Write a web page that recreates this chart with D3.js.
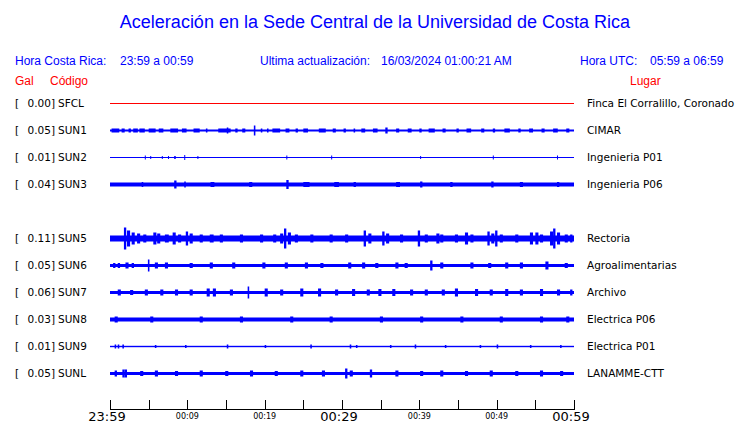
<!DOCTYPE html>
<html><head><meta charset="utf-8">
<script src="https://cdn.jsdelivr.net/npm/d3@7"></script>
<style>body{margin:0;background:#fff}svg{display:block}</style>
</head><body><svg id="c" width="740" height="423"></svg>
<script>
// ---- data ----
const slots = ["SFCL","SUN1","SUN2","SUN3","SUN4","SUN5","SUN6","SUN7","SUN8","SUN9","SUNL"];
const codes = ["SFCL","SUN1","SUN2","SUN3","SUN5","SUN6","SUN7","SUN8","SUN9","SUNL"];
const gal = [0.00,0.05,0.01,0.04,0.11,0.05,0.06,0.03,0.01,0.05];
const places = ["Finca El Corralillo, Coronado","CIMAR","Ingenieria P01","Ingenieria P06","Rectoria","Agroalimentarias","Archivo","Electrica P06","Electrica P01","LANAMME-CTT"];
// base half-amplitude (relative units) of each trace
const baseAmp = [0,1,0.6,2,3,1.5,1.5,2,0.7,1.5];
// bursts: [minutes after 23:59, half-amplitude, duration in minutes]
const burstsSFCL = [];
const burstsSUN1 = [[0.2,2,1],[1.5,2,0.4],[2.4,2,0.3],[3.0,2,0.6],[3.8,2,0.7],[5.0,2,0.9],[6.3,2,0.6],[7.8,2,1.0],[9.3,2,0.6],[10.8,2,0.8],[12.4,2,0.2],[14.0,2,1.6],[15.1,3,0.2],[16.2,2,0.3],[17.1,2,0.4],[18.6,5,0.2],[19.5,2,0.2],[20.3,2,0.2],[21.0,2,1.0],[22.7,2,0.5],[24.0,2,0.3],[25.0,2,0.6],[27.0,2,0.9],[28.8,2,0.4],[30.2,2,0.3],[31.5,2,0.2],[32.5,2,0.5],[34.0,2,0.6],[35.6,3,0.3],[37.0,2,0.4],[38.5,2,0.5],[40.0,2,0.3],[41.2,2,0.8],[43.0,2,0.4],[44.8,2,0.3],[46.1,2,0.6],[48.0,2,0.4],[49.5,2,0.3],[51.0,2,0.7],[52.8,2,0.3],[54.2,2,0.5],[55.8,2,0.4],[57.3,2,0.6],[59.0,2,0.4]];
const burstsSUN2 = [[4.5,2,0.1],[5.2,1.5,0.1],[6.7,1.5,0.1],[7.5,1.5,0.1],[8.3,1.5,0.2],[9.6,2.5,0.1],[11.3,1.5,0.1],[22.8,2,0.1],[28.6,2,0.1],[40.1,1.5,0.1],[49.5,2,0.1],[57.8,2,0.1]];
const burstsSUN3 = [[4.1,2.5,0.2],[8.3,4,0.3],[9.6,3,0.2],[13.0,2.5,0.5],[18.0,2.5,0.4],[22.8,4.5,0.3],[25.0,2.5,0.8],[29.0,2.5,0.6],[31.5,2.5,0.3],[37.0,2.5,0.5],[40.1,3,0.3],[44.0,2.5,0.3],[49.3,3,0.3],[53.0,2.5,0.4],[57.8,2.5,0.3]];
const burstsSUN5 = [[1.8,11,0.3],[2.2,8,0.4],[2.8,6,0.4],[3.5,5,0.4],[4.3,4,0.4],[5.6,6,0.4],[6.1,5,0.4],[7.1,4,0.5],[8.1,6,0.4],[8.8,4,0.4],[9.8,7,0.3],[10.3,5,0.4],[11.6,4,0.4],[12.9,4,0.5],[14.2,4,0.4],[16.8,4,0.4],[19.4,4,0.4],[21.1,4,0.4],[22.0,5,0.4],[22.5,10,0.3],[23.0,6,0.4],[23.9,4,0.4],[25.9,4,0.4],[28.4,4,0.4],[30.4,4,0.4],[32.8,8,0.3],[33.4,5,0.4],[35.2,7,0.3],[35.7,5,0.4],[37.5,4,0.4],[39.8,8,0.3],[40.7,4,0.4],[42.2,5,0.4],[42.7,4,0.4],[44.6,4,0.4],[45.9,6,0.4],[46.6,4,0.4],[48.8,7,0.3],[49.3,5,0.4],[49.8,8,0.3],[50.4,4,0.4],[52.4,4,0.4],[54.3,6,0.4],[55.0,6,0.4],[55.6,4,0.4],[56.9,7,0.4],[57.3,10,0.3],[57.8,6,0.4],[58.8,4,0.4],[59.5,4,0.3]];
const burstsSUN6 = [[0.4,2.5,0.3],[1.0,2.5,0.3],[2.0,3,0.4],[2.8,2.5,0.3],[4.9,6,0.2],[5.8,3,0.4],[7.1,3,0.4],[10.3,2.5,0.4],[12.9,3,0.4],[15.8,3,0.4],[19.7,3,0.4],[22.6,3,0.4],[25.2,3,0.4],[27.2,2.5,0.4],[30.8,3,0.4],[32.6,3,0.4],[34.3,2.5,0.4],[36.9,3,0.4],[38.1,2.5,0.4],[41.4,5,0.3],[42.7,3,0.4],[46.6,3,0.4],[48.9,2.5,0.4],[51.1,3,0.4],[53.0,3,0.4],[56.3,4,0.4],[58.8,2.5,0.4]];
const burstsSUN7 = [[1.0,3,0.4],[2.6,2.5,0.4],[4.5,3,0.4],[6.5,3,0.4],[8.4,3,0.4],[10.3,3,0.4],[12.5,4,0.4],[13.3,4,0.4],[15.5,3,0.4],[17.8,6,0.2],[20.0,4,0.4],[22.0,3,0.4],[24.6,4,0.4],[26.9,4,0.4],[29.1,3,0.4],[31.3,3.5,0.4],[33.2,3,0.4],[34.7,3.5,0.4],[36.5,3.5,0.4],[38.8,3,0.4],[40.7,3,0.4],[42.9,3,0.4],[44.6,4,0.4],[47.2,3.5,0.4],[49.1,3,0.4],[51.1,3.5,0.4],[53.0,3,0.4],[55.6,3.5,0.4],[57.8,3,0.4],[59.5,3,0.3]];
const burstsSUN8 = [[0.6,3,0.4],[5.2,3,0.4],[11.6,3,0.4],[16.8,3,0.4],[23.3,3,0.4],[28.4,3,0.4],[34.9,3,0.4],[40.1,3,0.4],[45.3,3,0.4],[50.4,3,0.4],[55.6,3,0.4],[59.0,3,0.4]];
const burstsSUN9 = [[0.6,2,0.2],[1.0,2,0.2],[1.6,2,0.2],[5.8,1.5,0.2],[9.7,1.5,0.2],[15.1,2,0.2],[20.0,1.5,0.2],[25.9,2,0.2],[31.0,2,0.2],[31.8,1.5,0.2],[36.2,1.5,0.2],[39.4,2,0.2],[43.3,1.5,0.2],[47.8,1.5,0.2],[50.0,2,0.2],[54.3,1.5,0.2],[58.2,1.5,0.2]];
const burstsSUNL = [[0.6,3,0.3],[1.6,4,0.3],[1.9,4,0.3],[3.9,2.5,0.4],[5.8,3,0.4],[8.4,2.5,0.4],[11.6,3,0.4],[14.9,2.5,0.4],[18.1,3,0.4],[21.3,2.5,0.4],[24.6,3,0.4],[27.4,3,0.4],[30.4,5,0.3],[31.0,3,0.4],[33.6,4,0.3],[36.9,3,0.4],[40.1,2.5,0.4],[42.7,3,0.4],[45.9,2.5,0.4],[49.1,3,0.4],[52.4,2.5,0.4],[55.6,3,0.4],[58.2,2.5,0.4]];
const bursts = [burstsSFCL,burstsSUN1,burstsSUN2,burstsSUN3,burstsSUN5,burstsSUN6,burstsSUN7,burstsSUN8,burstsSUN9,burstsSUNL];
const tickMinutes = [0,5,10,15,20,25,30,35,40,45,50,55,60];
const tickLabels = {0:"23:59",10:"00:09",20:"00:19",30:"00:29",40:"00:39",50:"00:49",60:"00:59"};
const bigLabels = [0,30,60];

// ---- drawing ----
const svg = d3.select("#c");
const BLUE = "#0000ff", RED = "#ff0000";
const sans = "'Liberation Sans', Arial, sans-serif";
const dv = "'DejaVu Sans', sans-serif";

const x = d3.scaleLinear().domain([0,60]).range([110,574]);
const y = d3.scalePoint().domain(slots).range([103,373]);
const a = d3.scaleLinear().domain([0,10]).range([0,10]);

svg.append("text").attr("x",375).attr("y",28).attr("text-anchor","middle")
  .attr("font-family",sans).attr("font-size",18).attr("fill",BLUE)
  .text("Aceleración en la Sede Central de la Universidad de Costa Rica");

const hdr = [["Hora Costa Rica:",15],["23:59 a 00:59",120],["Ultima actualización:",260],["16/03/2024 01:00:21 AM",381],["Hora UTC:",580],["05:59 a 06:59",650]];
svg.selectAll("text.h").data(hdr).join("text").attr("class","h")
  .attr("x",d=>d[1]).attr("y",65).attr("font-family",sans).attr("font-size",12).attr("fill",BLUE).text(d=>d[0]);
const hdr2 = [["Gal",15],["Código",50],["Lugar",630]];
svg.selectAll("text.h2").data(hdr2).join("text").attr("class","h2")
  .attr("x",d=>d[1]).attr("y",85).attr("font-family",sans).attr("font-size",12).attr("fill",RED).text(d=>d[0]);

const rows = codes.map((c,i)=>({code:c,gal:gal[i],place:places[i],base:baseAmp[i],bursts:bursts[i]}));
const fmt = d3.format(".2f");
const g = svg.selectAll("g.row").data(rows).join("g").attr("class","row");
g.append("text").attr("x",15).attr("y",d=>y(d.code)+4).attr("font-family",dv).attr("font-size",10.5).attr("fill","#000").text("[");
g.append("text").attr("x",55).attr("y",d=>y(d.code)+4).attr("text-anchor","end").attr("font-family",dv).attr("font-size",10.5).attr("fill","#000").text(d=>fmt(d.gal)+"]");
g.append("text").attr("x",58).attr("y",d=>y(d.code)+4).attr("font-family",dv).attr("font-size",10.5).attr("fill","#000").text(d=>d.code);
g.append("text").attr("x",587).attr("y",d=>y(d.code)+4).attr("font-family",dv).attr("font-size",10.5).attr("fill","#000").text(d=>d.place);

g.each(function(d){
  const sel = d3.select(this);
  const col = d.code==="SFCL" ? RED : BLUE;
  const cy = y(d.code);
  sel.append("line").attr("x1",x(0)).attr("x2",x(60)).attr("y1",cy+0.5).attr("y2",cy+0.5).attr("stroke",col).attr("stroke-width",1);
  if (d.base>0.6) {
    sel.append("rect").attr("x",x(0)).attr("width",x(60)-x(0))
      .attr("y",cy-a(d.base)+0.5).attr("height",2*a(d.base)).attr("fill",col);
  }
  sel.selectAll("rect.b").data(d.bursts).join("rect").attr("class","b")
    .attr("x",b=>x(b[0])).attr("width",b=>Math.max(1,x(b[0]+b[2])-x(b[0])))
    .attr("y",b=>cy-a(b[1])+0.5).attr("height",b=>2*a(b[1])).attr("fill",col);
});

// axis
svg.append("line").attr("x1",x(0)).attr("x2",x(60)).attr("y1",409.5).attr("y2",409.5).attr("stroke","#000");
svg.selectAll("line.t").data(tickMinutes).join("line").attr("class","t")
  .attr("x1",d=>Math.round(x(d))+0.5).attr("x2",d=>Math.round(x(d))+0.5).attr("y1",400).attr("y2",410).attr("stroke","#000");
svg.selectAll("text.tl").data(Object.keys(tickLabels).map(Number)).join("text").attr("class","tl")
  .attr("x",d=>x(d)-(bigLabels.includes(d)?3:0)).attr("y",d=>bigLabels.includes(d)?421:419).attr("text-anchor","middle")
  .attr("font-family",dv).attr("font-size",d=>bigLabels.includes(d)?13:8).attr("fill","#000")
  .text(d=>tickLabels[d]);
</script></body></html>
